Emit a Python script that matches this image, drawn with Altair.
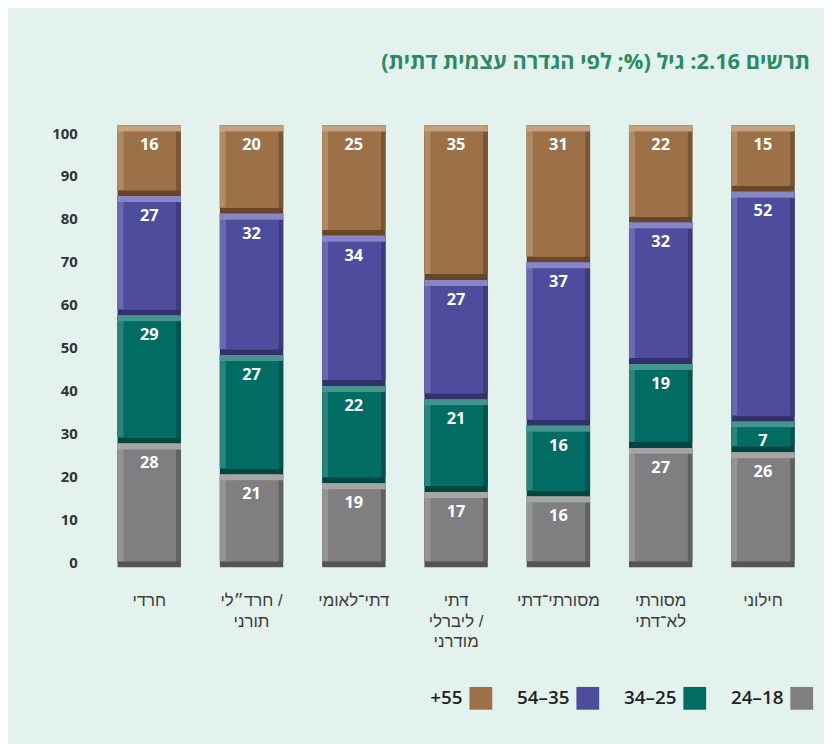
import altair as alt
import pandas as pd

# Categories, left to right ("|" marks a line break in the axis label)
categories = [
    "חרדי",
    "חרד״לי /|תורני",
    "דתי־לאומי",
    "דתי|ליברלי /|מודרני",
    "מסורתי־דתי",
    "מסורתי|לא־דתי",
    "חילוני",
]

# Age groups, bottom of the stack to top (labels as printed)
series = ["24–18", "34–25", "54–35", "+55"]
legend_order = ["+55", "54–35", "34–25", "24–18"]

v18_24 = [28, 21, 19, 17, 16, 27, 26]
v25_34 = [29, 27, 22, 21, 16, 19, 7]
v35_54 = [27, 32, 34, 27, 37, 32, 52]
v55 = [16, 20, 25, 35, 31, 22, 15]

title_text = "\u202Bתרשים 2.16: גיל (%; לפי הגדרה עצמית דתית)\u202C"

# palettes in legend_order: +55, 54-35, 34-25, 24-18
face = ["#9c7148", "#4e4c9d", "#006c64", "#7f7f81"]
top_light = ["#c3a282", "#8886c5", "#45958e", "#a6a6a8"]
left_light = ["#b08a64", "#6a68b1", "#2a837c", "#949496"]
right_dark = ["#7a5634", "#3d3b7d", "#00554f", "#616163"]
bottom_dark = ["#694628", "#33316b", "#004641", "#545456"]

rows = []
for si, (name, vals) in enumerate(zip(series, [v18_24, v25_34, v35_54, v55])):
    for c, v in zip(categories, vals):
        rows.append({"cat": c, "series": name, "order": si, "value": v})
df = pd.DataFrame(rows)

base = alt.Chart(df).transform_stack(
    stack="value",
    as_=["y0", "y1"],
    groupby=["cat"],
    sort=[alt.SortField("order", "ascending")],
)

LRE = "\u202a"
PDF = "\u202c"
x_enc = alt.X(
    "cat:N",
    sort=categories,
    scale=alt.Scale(paddingInner=0, paddingOuter=0),
    axis=alt.Axis(
        title=None,
        orient="bottom",
        labelAngle=0,
        ticks=False,
        domain=False,
        grid=False,
        labelPadding=26,
        labelFontSize=17,
        labelFont="Liberation Sans",
        labelColor="#3c3c3c",
        labelLineHeight=20.5,
        labelBaseline="top",
        labelOverlap=False,
        labelExpr="split('" + LRE + "' + replace(datum.label, /[|]/g, '" + PDF + "|" + LRE + "') + '" + PDF + "', '|')",
    ),
)

yscale = alt.Scale(domain=[0, 100], nice=False, zero=False)


def col(rng, legend=None):
    return alt.Color(
        "series:N",
        scale=alt.Scale(domain=legend_order, range=rng),
        legend=legend,
    )


BW = 64
l_bottom = base.mark_bar(width=BW).encode(
    x=x_enc, y=alt.Y("y1:Q", scale=yscale, axis=None), y2="y0:Q", color=col(bottom_dark)
)
l_right = base.mark_bar(width=BW, y2Offset=-6).encode(
    x=x_enc, y=alt.Y("y1:Q", scale=yscale, axis=None), y2="y0:Q", color=col(right_dark)
)
l_left = base.mark_bar(width=BW - 5, xOffset=-2.5, y2Offset=-6).encode(
    x=x_enc, y=alt.Y("y1:Q", scale=yscale, axis=None), y2="y0:Q", color=col(left_light)
)
l_top = base.mark_bar(width=BW, y2Offset=6).encode(
    x=x_enc, y=alt.Y("y1:Q", scale=yscale, axis=None), y2="y1:Q", color=col(top_light)
)
l_face = base.mark_bar(width=BW - 11, xOffset=0.5, yOffset=6, y2Offset=-6).encode(
    x=x_enc,
    y=alt.Y("y1:Q", scale=yscale, axis=None),
    y2="y0:Q",
    color=col(
        face,
        alt.Legend(
            orient="none",
            legendX=375,
            legendY=567,
            direction="horizontal",
            title=None,
            symbolType="square",
            symbolSize=529,
            symbolStrokeWidth=0,
            symbolOpacity=1,
            labelOffset={"expr": "-30"},
            labelAlign="right",
            labelFontSize=19,
            labelFont="Open Sans",
            labelFontWeight=600,
            labelColor="#222222",
            columnPadding=25,
            padding=0,
        ),
    ),
)

labels = base.mark_text(
    dy=20, baseline="middle", color="white", fontSize=16.5, fontWeight="bold", font="Open Sans"
).encode(x=x_enc, y=alt.Y("y1:Q", scale=yscale, axis=None), text="value:Q")

axis_layer = alt.Chart(df).mark_point(opacity=0).encode(
    y=alt.Y(
        "value:Q",
        scale=alt.Scale(domain=[-1.15, 101.78], nice=False, zero=False),
        axis=alt.Axis(
            orient="left",
            values=list(range(0, 101, 10)),
            title=None,
            ticks=False,
            domain=False,
            grid=False,
            labelPadding=21,
            labelFontSize=15,
            labelFont="Open Sans",
            labelFontWeight="bold",
            labelColor="#333333",
        ),
    )
)

chart = (
    alt.layer(l_bottom, l_right, l_left, l_top, l_face, labels, axis_layer)
    .resolve_scale(y="independent", color="independent")
    .properties(
        width=723,
        height=446,
        autosize="none",
        padding={"left": 91, "top": 115, "right": 10, "bottom": 175},
        background="#e3f2ed",
        title=alt.TitleParams(
            text=title_text,
            anchor="end",
            fontSize=22,
            font="Open Sans",
            fontWeight="bold",
            color="#2b8a66",
            offset=52,
            dx=-4,
        ),
    )
    .configure_view(stroke=None)
)

chart.save("out.html", embed_options={"renderer": "svg", "actions": False})
